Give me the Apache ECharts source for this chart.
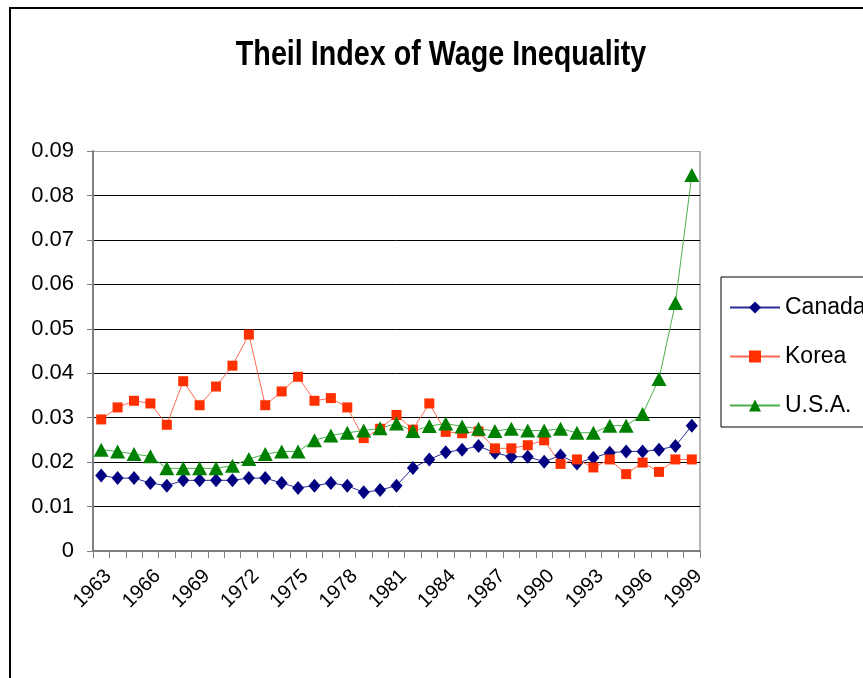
<!doctype html>
<html>
<head>
    <meta charset="utf-8">
    <title>Theil Index of Wage Inequality</title>
    <style>
        html, body { margin: 0; padding: 0; background: #fff; }
        #chartEle { width: 863px; height: 678px; }
    </style>
</head>
<body>
<div id="chartEle"></div>
<script src="https://cdn.jsdelivr.net/npm/echarts@6/dist/echarts.min.js"></script>
<script>
    // years 1963..1999
    var years = ['1963', '1964', '1965', '1966', '1967', '1968', '1969', '1970', '1971', '1972',
        '1973', '1974', '1975', '1976', '1977', '1978', '1979', '1980', '1981', '1982',
        '1983', '1984', '1985', '1986', '1987', '1988', '1989', '1990', '1991', '1992',
        '1993', '1994', '1995', '1996', '1997', '1998', '1999'];

    var canada = [0.0170, 0.0164, 0.0164, 0.0153, 0.0147, 0.0159, 0.0159, 0.0159, 0.0159, 0.0164,
        0.0164, 0.0153, 0.0142, 0.0147, 0.0153, 0.0147, 0.0132, 0.0137, 0.0147, 0.0187,
        0.0206, 0.0222, 0.0228, 0.0236, 0.0221, 0.0212, 0.0212, 0.0201, 0.0215, 0.0197,
        0.0210, 0.0221, 0.0224, 0.0224, 0.0228, 0.0236, 0.0282];

    var korea = [0.0296, 0.0323, 0.0338, 0.0332, 0.0284, 0.0382, 0.0328, 0.0370, 0.0417, 0.0487,
        0.0328, 0.0359, 0.0392, 0.0338, 0.0344, 0.0323, 0.0254, 0.0275, 0.0306, 0.0273,
        0.0332, 0.0268, 0.0265, 0.0269, 0.0231, 0.0231, 0.0238, 0.0249, 0.0196, 0.0206,
        0.0188, 0.0206, 0.0173, 0.0199, 0.0178, 0.0206, 0.0206];

    var usa = [0.0228, 0.0224, 0.0218, 0.0213, 0.0186, 0.0186, 0.0186, 0.0186, 0.0192, 0.0207,
        0.0218, 0.0224, 0.0224, 0.0249, 0.0260, 0.0266, 0.0271, 0.0276, 0.0287, 0.0270,
        0.0281, 0.0287, 0.0280, 0.0275, 0.0270, 0.0275, 0.0271, 0.0271, 0.0275, 0.0266,
        0.0266, 0.0282, 0.0282, 0.0308, 0.0387, 0.0558, 0.0846];

    var yTicks = [0, 0.01, 0.02, 0.03, 0.04, 0.05, 0.06, 0.07, 0.08, 0.09];

    var titleText = 'Theil Index of Wage Inequality';

    var font = '"Liberation Sans", Arial, sans-serif';

    var myChart = echarts.init(document.getElementById('chartEle'));

    // grid line colours: black inside, grey at the top (plot border)
    var splitColors = yTicks.map(function (v, i) {
        return i === yTicks.length - 1 ? '#a0a0a0' : '#000';
    });

    var option = {
        backgroundColor: '#fff',
        animation: false,
        graphic: [{
            type: 'rect',
            shape: {x: 10, y: 8, width: 900, height: 700},
            style: {fill: null, stroke: '#000', lineWidth: 2},
            silent: true
        }, {
            // right border of plot area
            type: 'line',
            shape: {x1: 700, y1: 151, x2: 700, y2: 551},
            style: {stroke: '#a0a0a0', lineWidth: 1.5},
            silent: true
        }, {
            // condensed bold title (narrow font not installed, so squeeze it)
            type: 'text',
            x: 441,
            y: 55,
            scaleX: 0.82,
            style: {
                text: titleText,
                font: 'bold 35px "Liberation Sans", Arial, sans-serif',
                fill: '#000',
                align: 'center',
                verticalAlign: 'middle'
            },
            silent: true
        }],
        legend: {
            orient: 'vertical',
            left: 721,
            top: 277,
            padding: [19, 30, 10, 8],
            itemGap: 26,
            itemWidth: 50,
            itemHeight: 15,
            borderColor: '#000',
            borderWidth: 1,
            textStyle: {fontFamily: font, fontSize: 23, color: '#000'},
            data: ['Canada', 'Korea', 'U.S.A.']
        },
        grid: {
            left: 93,
            right: 163,
            top: 151,
            bottom: 127
        },
        xAxis: {
            type: 'category',
            boundaryGap: true,
            data: years,
            axisLine: {lineStyle: {color: '#808080', width: 2}},
            axisTick: {show: true, interval: 0, length: 7, lineStyle: {color: '#808080', width: 1}},
            axisLabel: {
                interval: 2,
                rotate: 45,
                margin: 15,
                verticalAlign: 'top',
                fontFamily: font,
                fontSize: 20,
                color: '#000'
            },
            splitLine: {show: false}
        },
        yAxis: {
            type: 'value',
            min: 0,
            max: 0.09,
            interval: 0.01,
            axisLine: {show: true, lineStyle: {color: '#808080', width: 2}},
            axisTick: {show: true, length: 6, lineStyle: {color: '#808080', width: 1}},
            axisLabel: {
                margin: 19,
                fontFamily: font,
                fontSize: 22,
                color: '#000',
                formatter: function (v) {
                    return String(Math.round(v * 100) / 100);
                }
            },
            splitLine: {show: true, lineStyle: {color: splitColors, width: 1}}
        },
        series: [{
            name: 'Canada',
            type: 'line',
            data: canada,
            showAllSymbol: true,
            symbol: 'diamond',
            symbolSize: [12, 14],
            itemStyle: {color: '#000080'},
            lineStyle: {color: '#2b2b99', width: 1}
        }, {
            name: 'Korea',
            type: 'line',
            data: korea,
            showAllSymbol: true,
            symbol: 'rect',
            symbolSize: 10,
            itemStyle: {color: '#ff3000'},
            lineStyle: {color: '#ff6a50', width: 1}
        }, {
            name: 'U.S.A.',
            type: 'line',
            data: usa,
            showAllSymbol: true,
            symbol: 'triangle',
            symbolSize: [15, 14],
            itemStyle: {color: '#008000'},
            lineStyle: {color: '#4caf4c', width: 1}
        }]
    };
    myChart.setOption(option);
</script>
</body>
</html>
